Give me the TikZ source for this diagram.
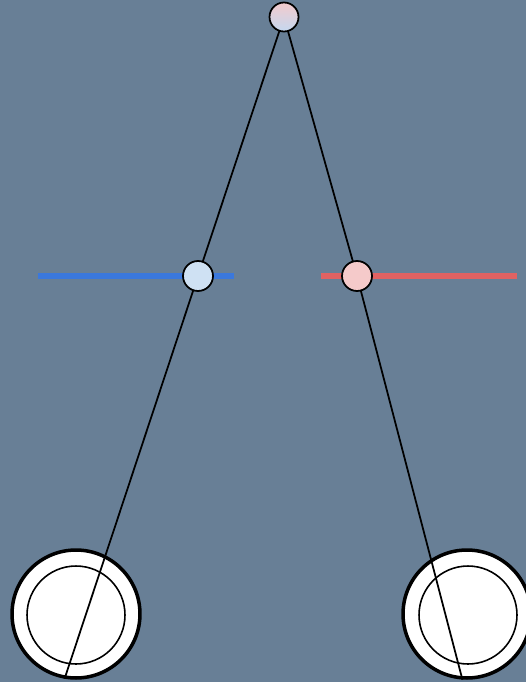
\documentclass[tikz,border=0pt]{standalone}
\usepackage{xcolor}
\definecolor{slate}{HTML}{687F96}
\definecolor{railblue}{HTML}{3B78DC}
\definecolor{railred}{HTML}{E06262}
\definecolor{blueknob}{HTML}{CFE1F3}
\definecolor{redknob}{HTML}{F5CACA}
\definecolor{pivtop}{HTML}{F3CACC}
\definecolor{pivbot}{HTML}{C4D8F0}
\usepackage{tikz}
\pgfdeclarelayer{fg}
\pgfsetlayers{main,fg}

\begin{document}
\begin{tikzpicture}[
    x=0.02cm, y=-0.02cm,
    knob/.style={circle, draw=black, line width=1pt, inner sep=0pt, minimum size=0.6cm},
    wheel/.style={circle, draw=black, fill=white, line width=2pt, inner sep=0pt, minimum size=2.56cm},
    hub/.style={circle, draw=black, line width=0.9pt, inner sep=0pt, minimum size=1.96cm},
    rail/.style={line width=3.3pt},
    rod/.style={draw=black, line width=1pt}
]
    \fill[slate] (0,0) rectangle (526,682);
    \useasboundingbox (0,0) rectangle (526,682);

    % wheels
    \node[wheel] (WHEELL) at (76,614) {};
    \node[hub] (HUBL) at (76,615) {};
    \node[wheel] (WHEELR) at (467,614) {};
    \node[hub] (HUBR) at (468,615) {};

    % rails
    \draw[rail, railblue] (38,276) -- (234,276);
    \draw[rail, railred] (321,276) -- (517,276);

    \begin{pgfonlayer}{fg}
    \node[knob, minimum size=0.58cm, top color=pivtop, bottom color=pivbot] (PIVOT) at (284,17) {};
    \node[knob, fill=blueknob] (SLIDERL) at (198,276) {};
    \node[knob, fill=redknob] (SLIDERR) at (357,276) {};
    \end{pgfonlayer}

    % rods
    \path[rod] (PIVOT.center) -- (SLIDERL.center) -- (WHEELL.-100);
    \path[rod] (PIVOT.center) -- (SLIDERR.center) -- (WHEELR.-94);
\end{tikzpicture}
\end{document}
